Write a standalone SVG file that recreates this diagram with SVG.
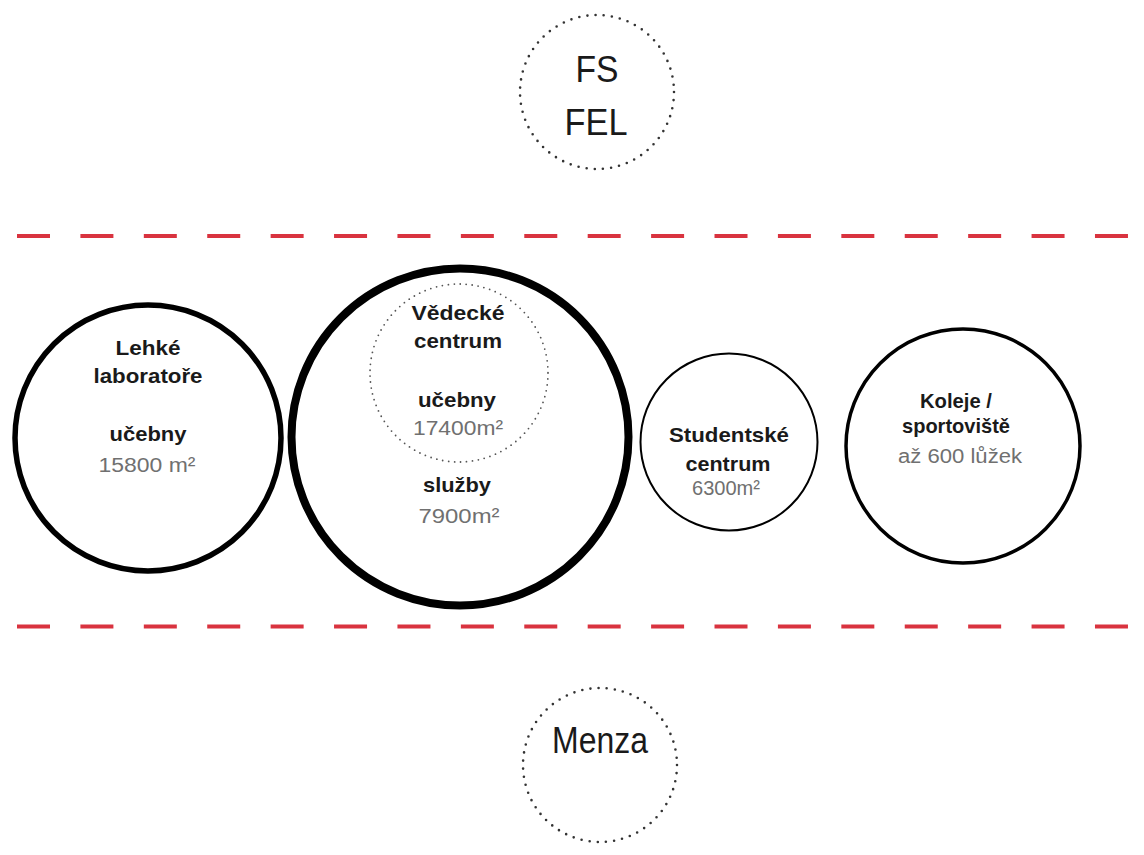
<svg xmlns="http://www.w3.org/2000/svg" width="1144" height="855" viewBox="0 0 1144 855">
<style>
.bg{fill:#fff}
.dash{stroke:#d9333f;stroke-width:4;stroke-dasharray:33 30.41;fill:none}
.dot{fill:none;stroke:#333;stroke-width:2.6;stroke-linecap:round;stroke-dasharray:0 8.2}
.dots{fill:none;stroke:#555;stroke-width:1.8;stroke-linecap:round;stroke-dasharray:0 6}
.ring{fill:none;stroke:#000}
.t{font-family:"Liberation Sans",Arial,sans-serif;font-weight:bold;font-size:20.5px;fill:#1a1a1a;text-anchor:middle}
.n{font-family:"Liberation Sans",Arial,sans-serif;font-size:20px;fill:#707070;text-anchor:middle}
.big{font-family:"Liberation Sans",Arial,sans-serif;font-size:37px;fill:#1a1a1a;text-anchor:middle}
</style>
<rect class="bg" width="1144" height="855"/>
<g id="connectors">
<line class="dash" x1="17" y1="236" x2="1128" y2="236"/>
<line class="dash" x1="17" y1="626.5" x2="1128" y2="626.5"/>
</g>
<g id="fs-fel">
<circle class="dot" cx="597" cy="92" r="77"/>
<text class="big" x="597" y="82" textLength="43" lengthAdjust="spacingAndGlyphs">FS</text>
<text class="big" x="596" y="135" textLength="63" lengthAdjust="spacingAndGlyphs">FEL</text>
</g>
<g id="lehke-laboratore">
<circle class="ring" cx="148" cy="438" r="133" stroke-width="5.5"/>
<text class="t" x="148" y="355" textLength="65" lengthAdjust="spacingAndGlyphs">Lehké</text>
<text class="t" x="148" y="383" textLength="109" lengthAdjust="spacingAndGlyphs">laboratoře</text>
<text class="t" x="148" y="441" textLength="77" lengthAdjust="spacingAndGlyphs">učebny</text>
<text class="n" x="147" y="472" textLength="97" lengthAdjust="spacingAndGlyphs">15800 m²</text>
</g>
<g id="vedecke-centrum">
<circle class="ring" cx="460" cy="437" r="168.5" stroke-width="8"/>
<circle class="dots" cx="459" cy="373" r="89"/>
<text class="t" x="458" y="320" textLength="93" lengthAdjust="spacingAndGlyphs">Vědecké</text>
<text class="t" x="458" y="348" textLength="88" lengthAdjust="spacingAndGlyphs">centrum</text>
<text class="t" x="457" y="407" textLength="78" lengthAdjust="spacingAndGlyphs">učebny</text>
<text class="n" x="458" y="435" textLength="90" lengthAdjust="spacingAndGlyphs">17400m²</text>
<text class="t" x="457" y="492" textLength="68" lengthAdjust="spacingAndGlyphs">služby</text>
<text class="n" x="459" y="523" textLength="81" lengthAdjust="spacingAndGlyphs">7900m²</text>
</g>
<g id="studentske-centrum">
<circle class="ring" cx="729" cy="442" r="88.5" stroke-width="2"/>
<text class="t" x="729" y="442" textLength="120" lengthAdjust="spacingAndGlyphs">Studentské</text>
<text class="t" x="728" y="471" textLength="85" lengthAdjust="spacingAndGlyphs">centrum</text>
<text class="n" x="726" y="495" font-size="18" textLength="68" lengthAdjust="spacingAndGlyphs">6300m²</text>
</g>
<g id="koleje">
<circle class="ring" cx="963" cy="446" r="117" stroke-width="3.5"/>
<text class="t" x="956" y="408" textLength="72" lengthAdjust="spacingAndGlyphs">Koleje /</text>
<text class="t" x="956" y="433" textLength="108" lengthAdjust="spacingAndGlyphs">sportoviště</text>
<text class="n" x="960" y="463" textLength="124" lengthAdjust="spacingAndGlyphs">až 600 lůžek</text>
</g>
<g id="menza">
<circle class="dot" cx="600" cy="765" r="77"/>
<text class="big" x="600" y="753" font-size="35" textLength="96" lengthAdjust="spacingAndGlyphs">Menza</text>
</g>
</svg>
